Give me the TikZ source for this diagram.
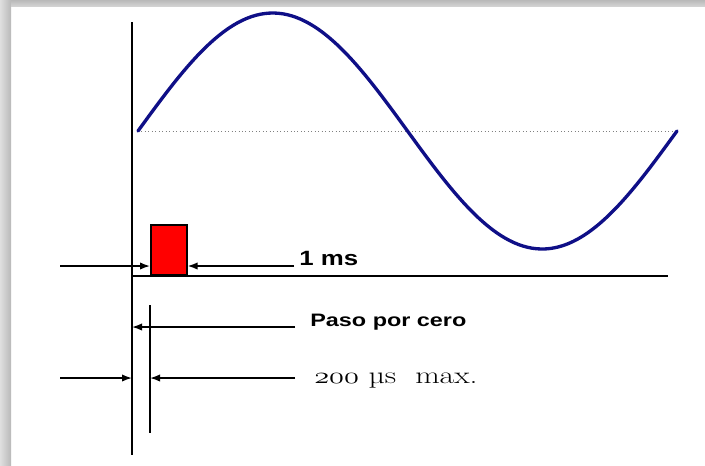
\documentclass[tikz,border=0pt]{standalone}
\usepackage{fontspec}
\newfontfamily\arialfont{Liberation Sans}
\usetikzlibrary{arrows.meta}
\definecolor{sinecol}{RGB}{15,15,135}
\tikzset{
  axis/.style={line width=1.1pt, black},
  arr/.style={line width=1.1pt, -{Latex[length=7.5pt,width=5.5pt]}},
  pulsebox/.style={draw=black, line width=1.2pt, fill=red, minimum width=27pt, minimum height=37.5pt, inner sep=0pt, anchor=south west},
  boldlbl/.style={font=\arialfont\bfseries, anchor=base west, inner sep=0pt},
  seriflbl/.style={anchor=base west, inner sep=0pt}
}
\begin{document}
\begin{tikzpicture}[x=0.75pt,y=-0.75pt]
\useasboundingbox (0,0) rectangle (705,465);
\fill[white] (0,0) rectangle (705,465);
% shadow frame
\shade[left color=gray!25, right color=gray!55] (0,0) rectangle (11,465);
\shade[top color=gray!55, bottom color=gray!35] (11,0) rectangle (705,6);
% sine and baseline
\draw[gray, dotted, line width=0.6pt] (138,131) -- (677,131);
\draw[sinecol, line width=2.5pt, line cap=round] plot[domain=0:360, samples=120] ({138+1.49722*\x},{131-118*sin(\x)});
% axes
\coordinate (axT) at (132,22);
\coordinate (axB) at (132,455);
\draw[axis] (axT) -- (axB);
\coordinate (hxL) at (132,276);
\coordinate (hxR) at (668,276);
\draw[axis] (hxL) -- (hxR);
\coordinate (v2T) at (150,305);
\coordinate (v2B) at (150,433);
\draw[axis] (v2T) -- (v2B);
% pulse
\node[pulsebox] (pulse) at (150,276) {};
% 1 ms
\coordinate (a1) at (60,266);
\coordinate (a2) at (294,266);
\draw[arr] (a1) -- (a1 -| pulse.west);
\draw[arr] (a2) -- (a2 -| pulse.east);
\node[boldlbl, font=\arialfont\bfseries\fontsize{15.5}{18}\selectfont, xscale=1.25] (ms) at (299,265) {1 ms};
% Paso por cero
\coordinate (p1) at (295,327);
\draw[arr] (p1) -- (p1 -| axT);
\node[boldlbl, font=\arialfont\bfseries\fontsize{13.5}{16}\selectfont, xscale=1.3] (paso) at (310,326) {Paso por cero};
% 200 us
\coordinate (b1) at (60,378);
\coordinate (b2) at (295,378);
\draw[arr] (b1) -- (b1 -| axT);
\draw[arr] (b2) -- (b2 -| v2T);
\node[seriflbl, font=\fontsize{18}{22}\selectfont, xscale=1.32] (us) at (314,383) {$\mathnormal{200}$ µs\ \ max.};
\end{tikzpicture}
\end{document}
